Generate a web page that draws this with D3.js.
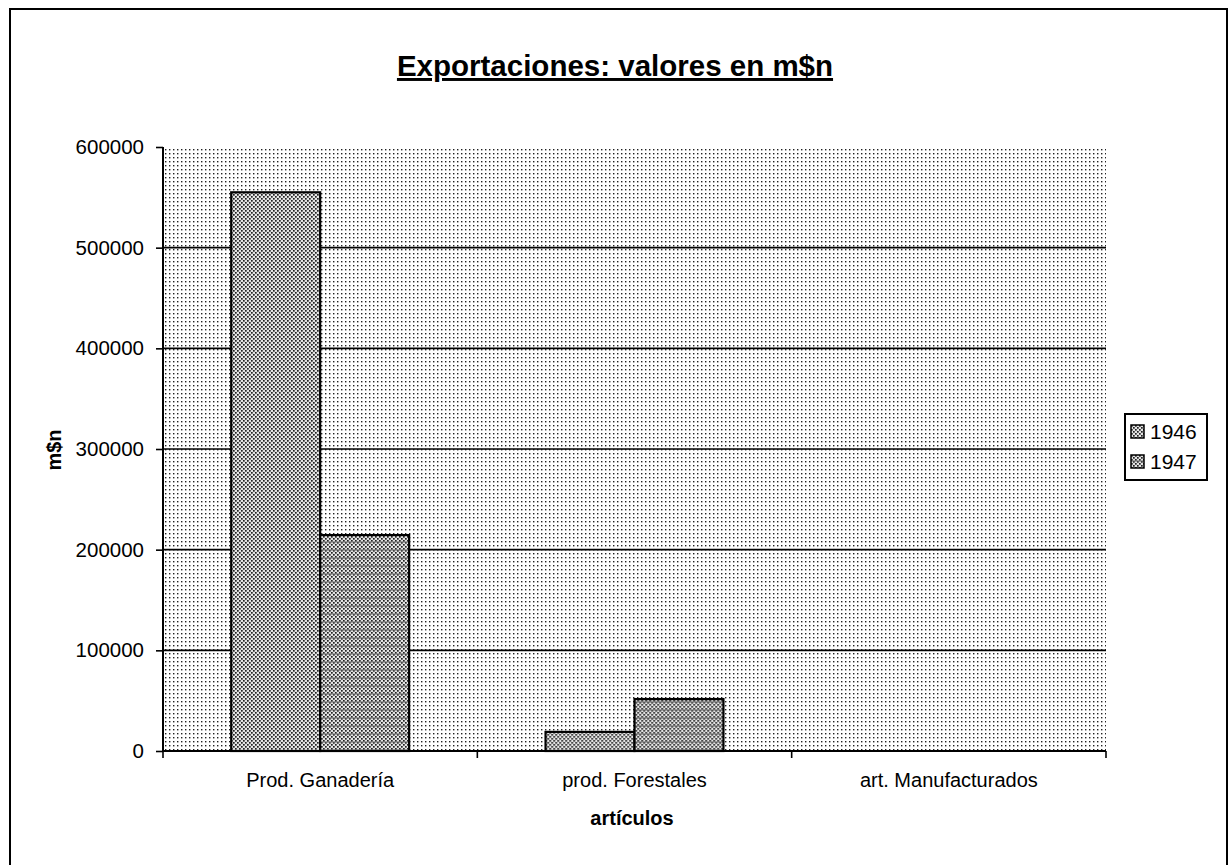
<!DOCTYPE html>
<html>
<head>
<meta charset="utf-8">
<script src="https://cdn.jsdelivr.net/npm/d3@7"></script>
<style>
  html, body { margin: 0; padding: 0; background: #fff; }
  svg { display: block; font-family: "Liberation Sans", Arial, sans-serif; }
</style>
</head>
<body>
<svg id="chart" width="1229" height="865"></svg>
<script>
// ---- data ----
const categories = ["Prod. Ganadería", "prod. Forestales", "art. Manufacturados"];
const seriesNames = ["1946", "1947"];
const values1946 = [555000, 19000, 0];
const values1947 = [214500, 51600, 0];
const yTicks = [0, 100000, 200000, 300000, 400000, 500000, 600000];
const titleText = "Exportaciones: valores en m$n";
const yTitle = "m$n";
const xTitle = "artículos";

const svg = d3.select("#chart");
const defs = svg.append("defs");

// patterns
const pBg = defs.append("pattern").attr("id", "pBg").attr("patternUnits", "userSpaceOnUse")
  .attr("width", 4).attr("height", 4);
pBg.append("rect").attr("width", 4).attr("height", 4).attr("fill", "#fff");
pBg.append("rect").attr("x", 1).attr("y", 1).attr("width", 1.4).attr("height", 1.4).attr("fill", "#222");

const p46 = defs.append("pattern").attr("id", "p46").attr("patternUnits", "userSpaceOnUse")
  .attr("width", 4).attr("height", 4);
p46.append("rect").attr("width", 4).attr("height", 4).attr("fill", "#e4e4e4");
p46.append("rect").attr("x", 0).attr("y", 0).attr("width", 1.7).attr("height", 1.7).attr("fill", "#222");
p46.append("rect").attr("x", 2).attr("y", 2).attr("width", 1.7).attr("height", 1.7).attr("fill", "#222");

const p47 = defs.append("pattern").attr("id", "p47").attr("patternUnits", "userSpaceOnUse")
  .attr("width", 4).attr("height", 8);
p47.append("rect").attr("width", 4).attr("height", 8).attr("fill", "#e2e2e2");
p47.append("rect").attr("x", 0).attr("y", 0).attr("width", 1.7).attr("height", 1.7).attr("fill", "#222");
p47.append("rect").attr("x", 2).attr("y", 2).attr("width", 1.7).attr("height", 1.7).attr("fill", "#222");
p47.append("rect").attr("x", 0).attr("y", 4).attr("width", 1.7).attr("height", 1.7).attr("fill", "#222");
p47.append("rect").attr("x", 2).attr("y", 6).attr("width", 1.7).attr("height", 1.7).attr("fill", "#222");
p47.append("rect").attr("x", 0).attr("y", 5.5).attr("width", 4).attr("height", 1).attr("fill", "#666");

const fills = ["url(#p46)", "url(#p47)"];

// outer frame
svg.append("path")
  .attr("d", "M10,865 L10,9 L1227,9 L1227,865")
  .attr("fill", "none").attr("stroke", "#000").attr("stroke-width", 2);

// layout
const plot = { left: 163, right: 1106, top: 147, bottom: 751 };

const x0 = d3.scaleBand().domain(categories).range([plot.left, plot.right]).padding(0);
const x1 = d3.scaleBand().domain(seriesNames)
  .range([x0.bandwidth() * 0.217, x0.bandwidth() * 0.783]).padding(0);
const y = d3.scaleLinear().domain([0, 600000]).range([plot.bottom, plot.top]);

// plot background
svg.append("rect")
  .attr("x", plot.left).attr("y", plot.top)
  .attr("width", plot.right - plot.left).attr("height", plot.bottom - plot.top)
  .attr("fill", "url(#pBg)");

// gridlines
svg.append("g").selectAll("line")
  .data(yTicks.filter(d => d > 0 && d < 600000))
  .join("line")
  .attr("x1", plot.left).attr("x2", plot.right)
  .attr("y1", d => y(d)).attr("y2", d => y(d))
  .attr("stroke", "#000").attr("stroke-width", 1.6);

// bars
const data = categories.map((c, i) => ({ cat: c, vals: [values1946[i], values1947[i]] }));
const groups = svg.append("g").selectAll("g").data(data).join("g")
  .attr("transform", d => `translate(${x0(d.cat)},0)`);
groups.selectAll("rect")
  .data(d => d.vals.map((v, j) => ({ s: seriesNames[j], v, j })).filter(e => e.v > 0))
  .join("rect")
  .attr("x", e => x1(e.s))
  .attr("width", x1.bandwidth())
  .attr("y", e => y(e.v))
  .attr("height", e => y(0) - y(e.v))
  .attr("fill", e => fills[e.j])
  .attr("stroke", "#000").attr("stroke-width", 2.2);

// y axis
const yAxis = svg.append("g")
  .attr("transform", `translate(${plot.left},0)`)
  .call(d3.axisLeft(y).tickValues(yTicks).tickFormat(d3.format("d")).tickSize(7).tickPadding(12));
yAxis.select(".domain").attr("stroke-width", 2).attr("d", `M0,${plot.top}V${plot.bottom}`);
yAxis.selectAll(".tick line").attr("stroke-width", 1.6);
yAxis.selectAll("text").attr("font-size", 20.5).attr("fill", "#000")
  .attr("font-family", "'Liberation Sans', Arial, sans-serif");

// x axis
const xAxis = svg.append("g")
  .attr("transform", `translate(0,${plot.bottom})`)
  .call(d3.axisBottom(x0).tickSize(0).tickPadding(22));
xAxis.select(".domain").attr("stroke-width", 2).attr("d", `M${plot.left},0H${plot.right}`);
xAxis.selectAll("text").attr("font-size", 20).attr("fill", "#000")
  .attr("font-family", "'Liberation Sans', Arial, sans-serif");
// boundary tick marks
const bounds = categories.map(c => x0(c)).concat([x0(categories[categories.length - 1]) + x0.bandwidth()]);
xAxis.selectAll(".btick").data(bounds).join("line")
  .attr("class", "btick")
  .attr("x1", d => d).attr("x2", d => d)
  .attr("y1", 0).attr("y2", 7)
  .attr("stroke", "#000").attr("stroke-width", 1.6);

// title
svg.append("text")
  .attr("x", 615).attr("y", 76)
  .attr("text-anchor", "middle")
  .attr("font-size", 29.5).attr("font-weight", "bold")
  .attr("text-decoration", "underline")
  .text(titleText);

// axis titles
svg.append("text")
  .attr("transform", "translate(61,450) rotate(-90)")
  .attr("text-anchor", "middle")
  .attr("font-size", 20).attr("font-weight", "bold")
  .text(yTitle);

svg.append("text")
  .attr("x", 632).attr("y", 825)
  .attr("text-anchor", "middle")
  .attr("font-size", 20).attr("font-weight", "bold")
  .text(xTitle);

// legend
const legend = svg.append("g").attr("transform", "translate(1125,414)");
legend.append("rect").attr("width", 82).attr("height", 66)
  .attr("fill", "#fff").attr("stroke", "#000").attr("stroke-width", 2);
const li = legend.selectAll("g.item").data(seriesNames).join("g").attr("class", "item")
  .attr("transform", (d, i) => `translate(6,${11 + i * 30})`);
li.append("rect").attr("width", 13).attr("height", 13)
  .attr("fill", (d, i) => fills[i]).attr("stroke", "#000").attr("stroke-width", 1.5);
li.append("text").attr("x", 19).attr("y", 14)
  .attr("font-size", 21).text(d => d);
</script>
</body>
</html>
